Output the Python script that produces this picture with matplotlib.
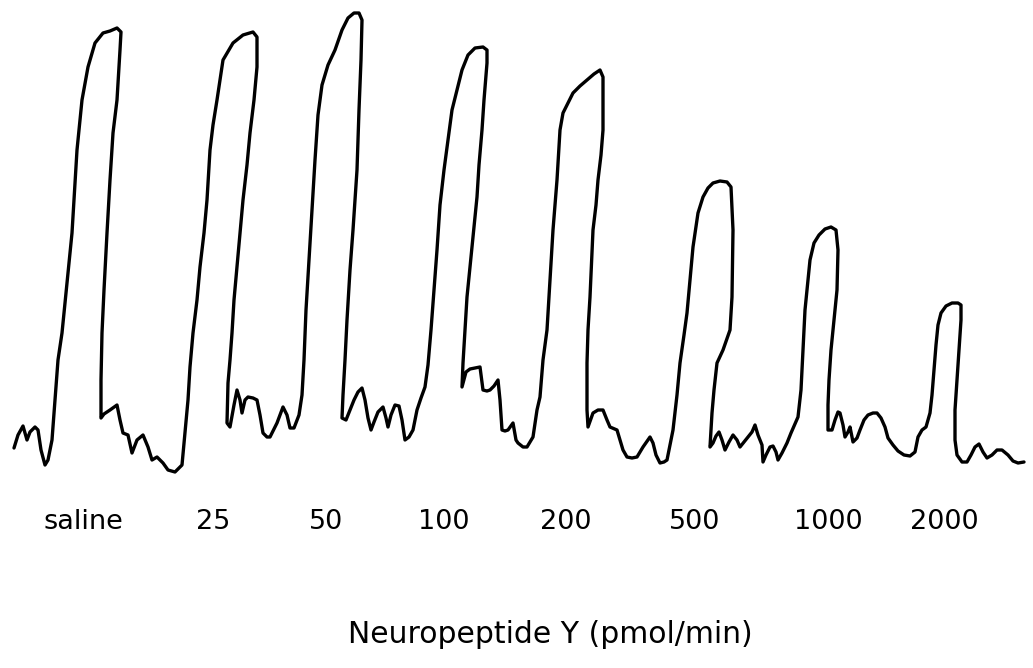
import matplotlib
matplotlib.use("Agg")
import matplotlib.pyplot as plt

# chart-recorder trace (x = time axis, y = recorder deflection, image units, down = larger)
trace_x = [14, 18, 23, 27, 30, 35, 38, 41, 45, 48, 52, 55, 58, 62, 67, 72, 77, 82, 88, 95, 103, 110, 117, 121,
           120, 117, 113, 110, 107, 104, 102, 101, 101,
           104, 110, 117, 120, 123, 128, 132, 137, 143, 148, 152, 157, 163, 168, 175, 182, 185, 188,
           190, 193, 197, 200, 204, 207, 210, 213, 217, 223, 233, 243, 253, 257,
           257, 254, 250, 247, 243, 240, 237, 234, 232, 230, 228, 227,
           230, 234, 237, 240, 242, 245, 248, 253, 257, 260, 263, 267, 270, 277, 283, 287, 290, 294, 299, 302,
           304, 306, 309, 312, 315, 318, 322, 328, 335, 342, 348, 354, 359, 362,
           361, 359, 357, 353, 350, 347, 345, 343, 342,
           346, 350, 354, 358, 362, 365, 368, 371, 374, 378, 383, 386, 388, 391, 395, 399, 402, 405, 409, 413, 417, 421, 425,
           428, 431, 434, 437, 440, 444, 448, 452, 457, 462, 468, 475, 483, 487,
           487, 484, 482, 479, 477, 472, 467, 465, 463, 462,
           466, 470, 475, 480, 483, 487, 490, 494, 498, 500, 502, 505, 508, 513, 516, 518, 523, 527, 533, 537,
           540, 543, 547, 550, 553, 557, 560, 563, 568, 573, 580, 587, 594, 600, 603,
           603, 601, 598, 596, 593, 590, 588, 587, 587, 588,
           593, 598, 603, 607, 610, 617, 620, 623, 627, 632, 637, 643, 650, 653, 656, 660, 664, 667, 670, 673,
           677, 680, 684, 687, 690, 693, 698, 703, 708, 713, 720, 727, 731,
           733, 732, 730, 723, 717, 714, 712, 710,
           713, 716, 719, 722, 725, 729, 733, 737, 740, 744, 748, 752, 755, 758, 762, 763, 766, 770, 773, 776, 778, 782, 787,
           791, 795, 798,
           801, 803, 805, 808, 810, 814, 819, 825, 831, 836,
           838, 837, 834, 831, 829, 828, 828,
           832, 835, 838, 840, 843, 845, 848, 850, 853, 857, 860, 864, 868, 873, 877, 881, 885, 888, 893, 898, 904, 910, 915,
           918, 922, 926, 930,
           932, 934, 936, 938, 941, 946, 952, 958, 961,
           961, 959, 957, 955, 955, 957, 962, 967,
           971, 975, 979, 983, 987, 992, 997, 1002, 1008, 1013, 1018, 1024]
trace_y = [448, 435, 426, 440, 432, 427, 430, 450, 465, 460, 440, 400, 360, 333, 283, 233, 150, 100, 67, 43, 33, 31, 28, 32,
           50, 100, 133, 180, 233, 290, 333, 380, 418,
           414, 410, 405, 420, 433, 435, 453, 440, 435, 447, 460, 457, 463, 470, 472, 465, 433, 400,
           367, 333, 300, 267, 233, 200, 150, 125, 100, 60, 43, 35, 32, 37,
           67, 100, 133, 165, 200, 233, 267, 300, 333, 360, 383, 423,
           427, 405, 390, 400, 413, 400, 397, 398, 400, 415, 433, 437, 437, 423, 407, 415, 428, 428, 415, 395,
           360, 310, 260, 210, 160, 115, 85, 65, 50, 30, 18, 13, 13, 20,
           60, 110, 170, 230, 270, 320, 360, 395, 418,
           420, 410, 400, 392, 388, 400, 418, 430, 422, 412, 407, 418, 427, 415, 405, 406, 420, 440, 437, 430, 410, 398, 387,
           365, 330, 290, 250, 205, 170, 140, 110, 90, 70, 55, 48, 47, 50,
           63, 100, 130, 165, 197, 247, 297, 330, 363, 387,
           372, 369, 368, 367, 390, 391, 390, 386, 380, 400, 430, 431, 430, 423, 440, 443, 447, 447, 437, 410,
           397, 360, 330, 280, 230, 180, 130, 113, 103, 93, 86, 80, 74, 70, 77,
           130, 155, 180, 205, 230, 297, 330, 363, 410, 427,
           413, 410, 410, 420, 427, 430, 440, 450, 457, 458, 457, 447, 437, 443, 455, 463, 462, 460, 445, 430,
           395, 363, 335, 313, 280, 247, 213, 197, 188, 183, 181, 182, 187,
           230, 297, 330, 350, 363, 390, 413, 447,
           443, 436, 432, 440, 450, 442, 435, 440, 447, 442, 437, 432, 425, 435, 445, 462, 455, 447, 446, 452, 460, 453, 443,
           433, 424, 417,
           390, 350, 310, 280, 260, 243, 235, 229, 227, 230,
           250, 290, 320, 350, 380, 405, 430,
           430, 420, 412, 413, 425, 437, 432, 427, 442, 438, 430, 420, 415, 413, 413, 418, 427, 438, 445, 451, 455, 456, 452,
           437, 430, 427, 413,
           395, 370, 345, 325, 313, 306, 303, 303, 305,
           320, 350, 380, 410, 440, 455, 462, 462,
           455, 447, 444, 452, 458, 455, 450, 450, 455, 461, 463, 462]

doses = ["saline", "25", "50", "100", "200", "500", "1000", "2000"]
dose_x = [83, 213, 326, 444, 566, 695, 828, 944]
xlabel = "Neuropeptide Y (pmol/min)"

fig = plt.figure(figsize=(10.33, 6.68), dpi=100)
ax = fig.add_axes([0, 0, 1, 1])
ax.plot(trace_x, trace_y, color="black", lw=2.4, solid_joinstyle="round", solid_capstyle="round")
ax.set_xlim(0, 1033)
ax.set_ylim(668, 0)
ax.axis("off")

for d, x in zip(doses, dose_x):
    ax.text(x, 529, d, ha="center", va="baseline", fontsize=19.5, family="DejaVu Sans")
ax.text(550, 643, xlabel, ha="center", va="baseline", fontsize=21.5, family="DejaVu Sans")

fig.savefig("out.png", dpi=100, facecolor="white")
